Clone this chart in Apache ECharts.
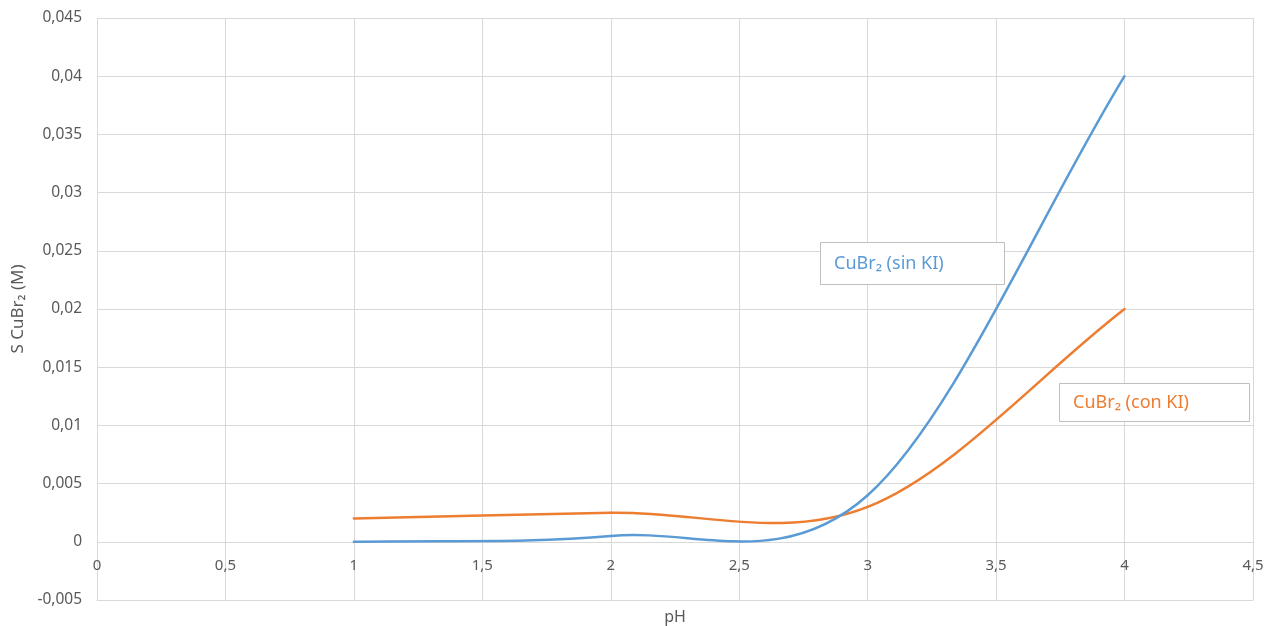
<!DOCTYPE html>
<html><head><meta charset="utf-8">
<script src="https://cdn.jsdelivr.net/npm/echarts@6/dist/echarts.min.js"></script>
<style>html,body{margin:0;padding:0;background:#fff}#c{width:1280px;height:626px}</style>
</head><body><div id="c"></div>
<script>
const phValues = [1, 2, 3, 4];
const sinKI = [0.0000, 0.0005, 0.0040, 0.0400];
const conKI = [0.0020, 0.0025, 0.0030, 0.0200];
const seriesNames = ['CuBr₂ (sin KI)', 'CuBr₂ (con KI)'];
const xAxisTitle = 'pH';
const yAxisTitle = 'S CuBr₂ (M)';

const fmt = v => String(+v.toFixed(4)).replace('.', ',');
const chart = echarts.init(document.getElementById('c'));
const font = '"Noto Sans", "Open Sans", sans-serif';

// Smoothed (Catmull-Rom style) segment between point i and i+1, computed in pixel space
function smoothSegment(xs, ys, color) {
  return function (params, api) {
    const i = params.dataIndex;
    const n = xs.length;
    if (i >= n - 1) return null;
    const P = k => api.coord([xs[k], ys[k]]);
    const p1 = P(i), p2 = P(i + 1);
    const p0 = i > 0 ? P(i - 1) : [2 * p1[0] - p2[0], 2 * p1[1] - p2[1]];
    const p3 = i + 2 < n ? P(i + 2) : [2 * p2[0] - p1[0], 2 * p2[1] - p1[1]];
    return {
      type: 'bezierCurve',
      shape: {
        x1: p1[0], y1: p1[1],
        cpx1: p1[0] + (p2[0] - p0[0]) / 6, cpy1: p1[1] + (p2[1] - p0[1]) / 6,
        cpx2: p2[0] - (p3[0] - p1[0]) / 6, cpy2: p2[1] - (p3[1] - p1[1]) / 6,
        x2: p2[0], y2: p2[1]
      },
      style: {stroke: color, fill: null, lineWidth: 2.5, lineCap: 'round'}
    };
  };
}

chart.setOption({
  animation: false,
  textStyle: {fontFamily: font},
  grid: {left: 97, right: 27, top: 18, bottom: 26, outerBoundsMode: 'none', containLabel: false},
  xAxis: {
    type: 'value', min: 0, max: 4.5, interval: 0.5,
    name: xAxisTitle, nameLocation: 'middle', nameGap: 9,
    nameTextStyle: {color: '#595959', fontSize: 16, fontFamily: font},
    axisLine: {show: true, onZero: false, lineStyle: {color: '#d9d9d9', width: 1}},
    axisTick: {show: false},
    axisLabel: {color: '#595959', fontSize: 15, margin: -42, formatter: fmt, showMinLabel: true, showMaxLabel: true},
    splitLine: {show: true, lineStyle: {color: '#d9d9d9', width: 1}}
  },
  yAxis: {
    type: 'value', min: -0.005, max: 0.045, interval: 0.005,
    name: yAxisTitle, nameLocation: 'middle', nameGap: 69, nameRotate: 90,
    nameTextStyle: {color: '#595959', fontSize: 17, fontFamily: font},
    axisLine: {show: true, onZero: false, lineStyle: {color: '#d9d9d9', width: 1}},
    axisTick: {show: false},
    axisLabel: {color: '#595959', fontSize: 15.5, margin: 15, formatter: fmt},
    splitLine: {show: true, lineStyle: {color: '#d9d9d9', width: 1}}
  },
  series: [
    {
      name: seriesNames[0], type: 'custom', z: 3,
      data: phValues.map((x, i) => [x, sinKI[i]]),
      encode: {x: 0, y: 1},
      renderItem: smoothSegment(phValues, sinKI, '#5b9bd5')
    },
    {
      name: seriesNames[1], type: 'custom', z: 2,
      data: phValues.map((x, i) => [x, conKI[i]]),
      encode: {x: 0, y: 1},
      renderItem: smoothSegment(phValues, conKI, '#ed7d31')
    }
  ],
  graphic: [
    {type: 'rect', x: 820.5, y: 242.5, shape: {width: 184, height: 42},
     style: {fill: '#fff', stroke: '#bfbfbf', lineWidth: 1}, z: 10},
    {type: 'text', x: 834, y: 264, z: 11,
     style: {text: seriesNames[0], fill: '#5b9bd5', font: '18px ' + font, verticalAlign: 'middle'}},
    {type: 'rect', x: 1059.5, y: 383.5, shape: {width: 190, height: 38},
     style: {fill: '#fff', stroke: '#bfbfbf', lineWidth: 1}, z: 10},
    {type: 'text', x: 1073, y: 403, z: 11,
     style: {text: seriesNames[1], fill: '#ed7d31', font: '18px ' + font, verticalAlign: 'middle'}}
  ]
});
</script></body></html>
